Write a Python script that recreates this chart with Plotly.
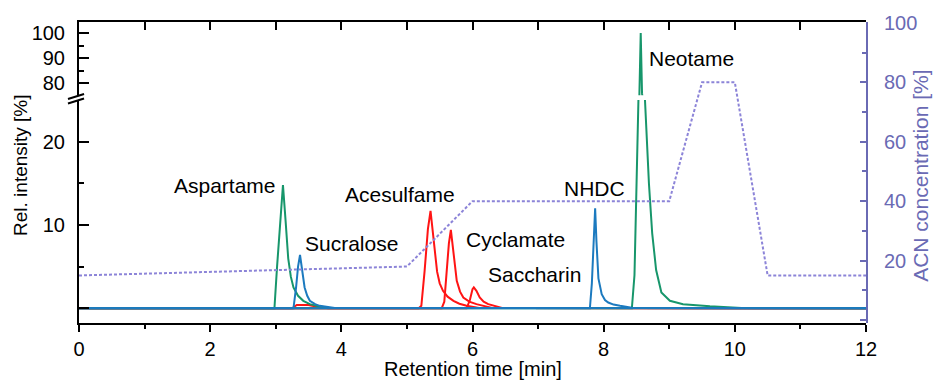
import plotly.graph_objects as go

# ---------------- data ----------------
t_aspartame = [0, 2.98, 3.02, 3.06, 3.11, 3.15, 3.19, 3.23, 3.27, 3.34, 3.42, 3.52, 3.62, 3.8, 12]
i_aspartame = [0, 0, 5.0, 10.0, 14.8, 10.5, 6.0, 3.8, 2.5, 1.5, 0.9, 0.5, 0.3, 0.05, 0]

t_sucralose = [0, 3.27, 3.31, 3.34, 3.37, 3.40, 3.44, 3.48, 3.52, 3.60, 3.67, 3.9, 12]
i_sucralose = [0, 0, 2.5, 5.0, 6.4, 4.8, 2.5, 1.5, 0.9, 0.5, 0.3, 0.05, 0]

t_acesulfame = [0, 3.25, 3.32, 3.5, 3.65, 3.8, 5.18, 5.22, 5.27, 5.32, 5.36, 5.40, 5.43, 5.46, 5.50, 5.55, 5.62, 5.71, 5.80, 5.91, 6.1, 12]
i_acesulfame = [0, 0, 0.4, 0.4, 0.15, 0, 0, 0.3, 4.5, 9.5, 11.7, 8.8, 6.3, 4.4, 3.0, 2.1, 1.4, 0.9, 0.55, 0.3, 0.05, 0]

t_cyclamate = [0, 5.53, 5.57, 5.61, 5.64, 5.67, 5.71, 5.76, 5.81, 5.86, 5.95, 6.06, 6.3, 12]
i_cyclamate = [0, 0, 0.8, 4.5, 7.8, 9.4, 6.4, 3.3, 2.0, 1.3, 0.8, 0.5, 0.05, 0]

t_saccharin = [0, 5.91, 5.96, 6.0, 6.02, 6.06, 6.11, 6.17, 6.24, 6.45, 12]
i_saccharin = [0, 0, 1.0, 2.3, 2.5, 2.1, 1.3, 0.8, 0.5, 0.05, 0]

t_nhdc = [0, 7.79, 7.82, 7.85, 7.87, 7.89, 7.92, 7.97, 8.02, 8.07, 8.15, 8.25, 8.45, 12]
i_nhdc = [0, 0, 3.0, 8.0, 12.0, 8.0, 3.6, 1.7, 1.0, 0.7, 0.45, 0.3, 0.05, 0]

t_neotame = [0, 8.43, 8.47, 8.50, 8.53, 8.545, 8.565, 8.585, 8.63, 8.66, 8.69, 8.74, 8.80, 8.88, 9.01, 9.21, 9.62, 10.1, 12]
i_neotame = [0, 0, 4.0, 14.0, 25.0, 76.0, 100.0, 76.0, 25.0, 19.0, 15.0, 9.0, 4.6, 1.9, 0.9, 0.5, 0.25, 0.05, 0]

t_acn = [0, 5, 6, 9, 9.5, 10, 10.5, 12]
acn = [15, 18, 40, 40, 80, 80, 15, 15]

labels = ["Aspartame", "Sucralose", "Acesulfame", "Cyclamate", "Saccharin", "NHDC", "Neotame"]
label_x = [2.23, 4.16, 4.90, 6.65, 6.94, 7.86, 9.34]
label_y = [14.7, 7.8, 13.6, 8.2, 4.0, 14.4, 90.0]
label_axis = ["y", "y", "y", "y", "y", "y", "y2"]

x_ticks = [0, 2, 4, 6, 8, 10, 12]
low_ticks = [0, 10, 20]
low_text = ["", "10", "20"]
up_ticks = [80, 90, 100]
acn_ticks = [0, 20, 40, 60, 80, 100]
acn_text = ["", "20", "40", "60", "80", "100"]

# ---------------- styling ----------------
GREEN = "#17966b"
BLUE = "#1c7abf"
RED = "#ff1414"
LAV_LINE = "#8c84d8"
LAV_AX = "#6a6ab4"
FONT = "Liberation Sans, Arial, sans-serif"

fig = go.Figure()

def add(t, v, color, yaxis="y"):
    fig.add_trace(go.Scatter(x=t, y=v, mode="lines", yaxis=yaxis, xaxis="x",
                             line=dict(color=color, width=2), showlegend=False,
                             hoverinfo="skip"))

# ACN gradient (right axis)
fig.add_trace(go.Scatter(x=t_acn, y=acn, mode="lines", xaxis="x", yaxis="y3",
                         line=dict(color=LAV_LINE, width=2, dash="3px,2px"),
                         showlegend=False, hoverinfo="skip"))

add(t_acesulfame, i_acesulfame, RED)
add(t_cyclamate, i_cyclamate, RED)
add(t_saccharin, i_saccharin, RED)
add(t_aspartame, i_aspartame, GREEN)
add(t_neotame, i_neotame, GREEN)
add(t_neotame, i_neotame, GREEN, yaxis="y2")
add(t_sucralose, i_sucralose, BLUE)
add(t_nhdc, i_nhdc, BLUE)

# dummy trace for the top axis
fig.add_trace(go.Scatter(x=[0, 12], y=[90, 90], xaxis="x2", yaxis="y2", mode="lines",
                         line=dict(width=0), opacity=0, showlegend=False, hoverinfo="skip"))

annotations = []
for txt, lx, ly, ax in zip(labels, label_x, label_y, label_axis):
    annotations.append(dict(text=txt, x=lx, y=ly, xref="x", yref=ax, showarrow=False,
                            font=dict(family=FONT, size=21, color="black"),
                            xanchor="center", yanchor="middle"))

annotations.append(dict(text="Rel. intensity [%]", x=-0.0737, y=0.525, xref="paper", yref="paper",
                        textangle=-90, showarrow=False, xanchor="center", yanchor="middle",
                        font=dict(family=FONT, size=19, color="black")))
annotations.append(dict(text="ACN concentration [%]", x=1.069, y=0.49, xref="paper", yref="paper",
                        textangle=-90, showarrow=False, xanchor="center", yanchor="middle",
                        font=dict(family=FONT, size=21, color=LAV_AX)))
annotations.append(dict(text="Retention time [min]", x=0.5, y=-0.153, xref="paper", yref="paper",
                        showarrow=False, xanchor="center", yanchor="middle",
                        font=dict(family=FONT, size=20, color="black")))

# axis break marks (decoration)
shapes = [
    dict(type="line", xref="paper", yref="paper", x0=-0.014, x1=0.0064,
         y0=(323 - 103.5) / 301, y1=(323 - 98.5) / 301, line=dict(color="black", width=2)),
    dict(type="line", xref="paper", yref="paper", x0=-0.014, x1=0.0064,
         y0=(323 - 99) / 301, y1=(323 - 94) / 301, line=dict(color="black", width=2)),
]

tickfont = dict(family=FONT, size=20, color="black")

fig.update_layout(
    width=936, height=380,
    margin=dict(l=79, r=70, t=22, b=57, autoexpand=False),
    paper_bgcolor="white", plot_bgcolor="rgba(0,0,0,0)",
    font=dict(family=FONT, color="black"),
    annotations=annotations,
    shapes=shapes,
    xaxis=dict(domain=[0, 1], range=[0, 12], anchor="y", showline=True, linecolor="black",
               linewidth=2, ticks="outside", tickvals=x_ticks, ticklen=7, tickwidth=2,
               tickcolor="black", minor=dict(dtick=1, tick0=0, ticklen=4, ticks="outside",
                                             tickwidth=1.5, tickcolor="black"),
               showgrid=False, zeroline=False, tickfont=tickfont, automargin=False),
    xaxis2=dict(overlaying="x", side="top", anchor="y2", range=[0, 12], showline=True,
                linecolor="black", linewidth=2, ticks="inside", dtick=1, tick0=0, ticklen=8,
                tickwidth=2, tickcolor="black", showticklabels=False, showgrid=False,
                zeroline=False, automargin=False),
    yaxis=dict(domain=[0, 0.741], range=[-1.76, 25.0], anchor="x", showline=True, linecolor="black",
               linewidth=2, ticks="inside", tickvals=low_ticks, ticktext=low_text, ticklen=10,
               tickwidth=2, tickcolor="black",
               minor=dict(tickvals=[5, 15], ticklen=5, ticks="inside", tickwidth=2, tickcolor="black"),
               showgrid=False, zeroline=False, tickfont=tickfont, ticklabelstandoff=8,
               automargin=False),
    yaxis2=dict(domain=[0.757, 1], range=[75.2, 104.4], anchor="x", showline=True, linecolor="black",
                linewidth=2, ticks="inside", tickvals=up_ticks, ticklen=10, tickwidth=2,
                tickcolor="black",
                minor=dict(tickvals=[85, 95], ticklen=5, ticks="inside", tickwidth=2, tickcolor="black"),
                showgrid=False, zeroline=False, tickfont=tickfont, ticklabelstandoff=8,
                automargin=False),
    yaxis3=dict(domain=[0, 1], range=[-1.0, 100.3], anchor="x", side="right", showline=True,
                linecolor=LAV_AX, linewidth=2, ticks="inside", tickvals=acn_ticks, ticktext=acn_text,
                ticklen=6, tickwidth=2, tickcolor=LAV_AX,
                minor=dict(dtick=10, tick0=0, ticklen=4, ticks="inside", tickwidth=2, tickcolor=LAV_AX),
                showgrid=False, zeroline=False,
                tickfont=dict(family=FONT, size=20, color=LAV_AX), ticklabelstandoff=12,
                automargin=False),
)

fig.write_html("out.html", config={"displayModeBar": False},
               post_script="document.body.style.margin='0';document.body.style.overflow='hidden';")
